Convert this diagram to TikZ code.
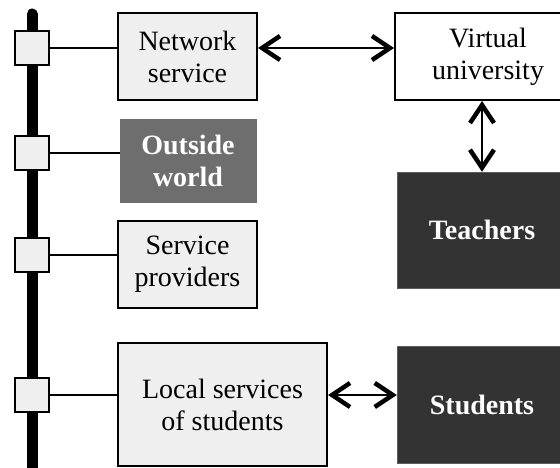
\documentclass[tikz,border=0pt]{standalone}
\usepackage{fontspec}
\setmainfont{Liberation Serif}
\usetikzlibrary{arrows.meta}
\definecolor{paleboxgray}{HTML}{EFEFEF}
\definecolor{midboxgray}{HTML}{6E6E6E}
\definecolor{darkboxgray}{HTML}{333333}
\begin{document}
\begin{tikzpicture}[x=1pt,y=-1pt,
    font=\fontsize{28}{32}\selectfont,
    lightbox/.style={draw, line width=2pt, fill=paleboxgray, align=center, inner sep=0pt},
    whitebox/.style={lightbox, fill=white},
    graybox/.style={draw=midboxgray, fill=midboxgray, text=white, font=\fontsize{28}{32}\selectfont\bfseries, align=center, inner sep=0pt},
    darkbox/.style={graybox, draw=darkboxgray!80!white, fill=darkboxgray},
    port/.style={draw, line width=2.5pt, fill=paleboxgray, minimum size=34pt, inner sep=0pt},
    link/.style={line width=2pt},
    twoway/.style={line width=2.5pt, {Straight Barb[length=18pt,width=24pt,line width=4.5pt]}-{Straight Barb[length=18pt,width=24pt,line width=4.5pt]}}]
      \useasboundingbox (0,0) rectangle (560,468);
      % bus
      \coordinate (bustop) at (32,14);
      \coordinate (busend) at (32,475);
      \draw[line width=11pt, line cap=round] (bustop) -- (busend);
      % boxes
      \node[lightbox, minimum width=139pt, minimum height=87pt] (net) at (187.5,56.5) {Network\\service};
      \node[graybox, minimum width=136pt, minimum height=83pt] (outside) at (188,160.5) {Outside\\world};
      \node[lightbox, minimum width=139pt, minimum height=87pt] (prov) at (187.5,264.5) {Service\\providers};
      \node[lightbox, minimum width=209pt, minimum height=123pt] (local) at (222.5,404.5) {Local services\\of students};
      \node[whitebox, minimum width=186pt, minimum height=87pt] (virt) at (488,56.5) {Virtual\\university};
      \node[darkbox, minimum width=170pt, minimum height=116pt] (teach) at (482,230) {Teachers};
      \node[darkbox, minimum width=170pt, minimum height=117pt] (stud) at (482,404.5) {Students};
      % ports on the bus
      \node[port] (p1) at (32,48) {};
      \node[port] (p2) at (32,153) {};
      \node[port] (p3) at (32,255) {};
      \node[port] (p4) at (32,395) {};
      \draw[link] (p1.east) -- (p1.east -| net.west);
      \draw[link] (p2.east) -- (p2.east -| outside.west);
      \draw[link] (p3.east) -- (p3.east -| prov.west);
      \draw[link] (p4.east) -- (p4.east -| local.west);
      % exchanges
      \draw[twoway] (net.east |- p1) -- (virt.west |- p1);
      \draw[twoway] (teach.north |- virt.south) -- (teach.north);
      \draw[twoway] (local.east |- p4) -- (stud.west |- p4);
\end{tikzpicture}
\end{document}
